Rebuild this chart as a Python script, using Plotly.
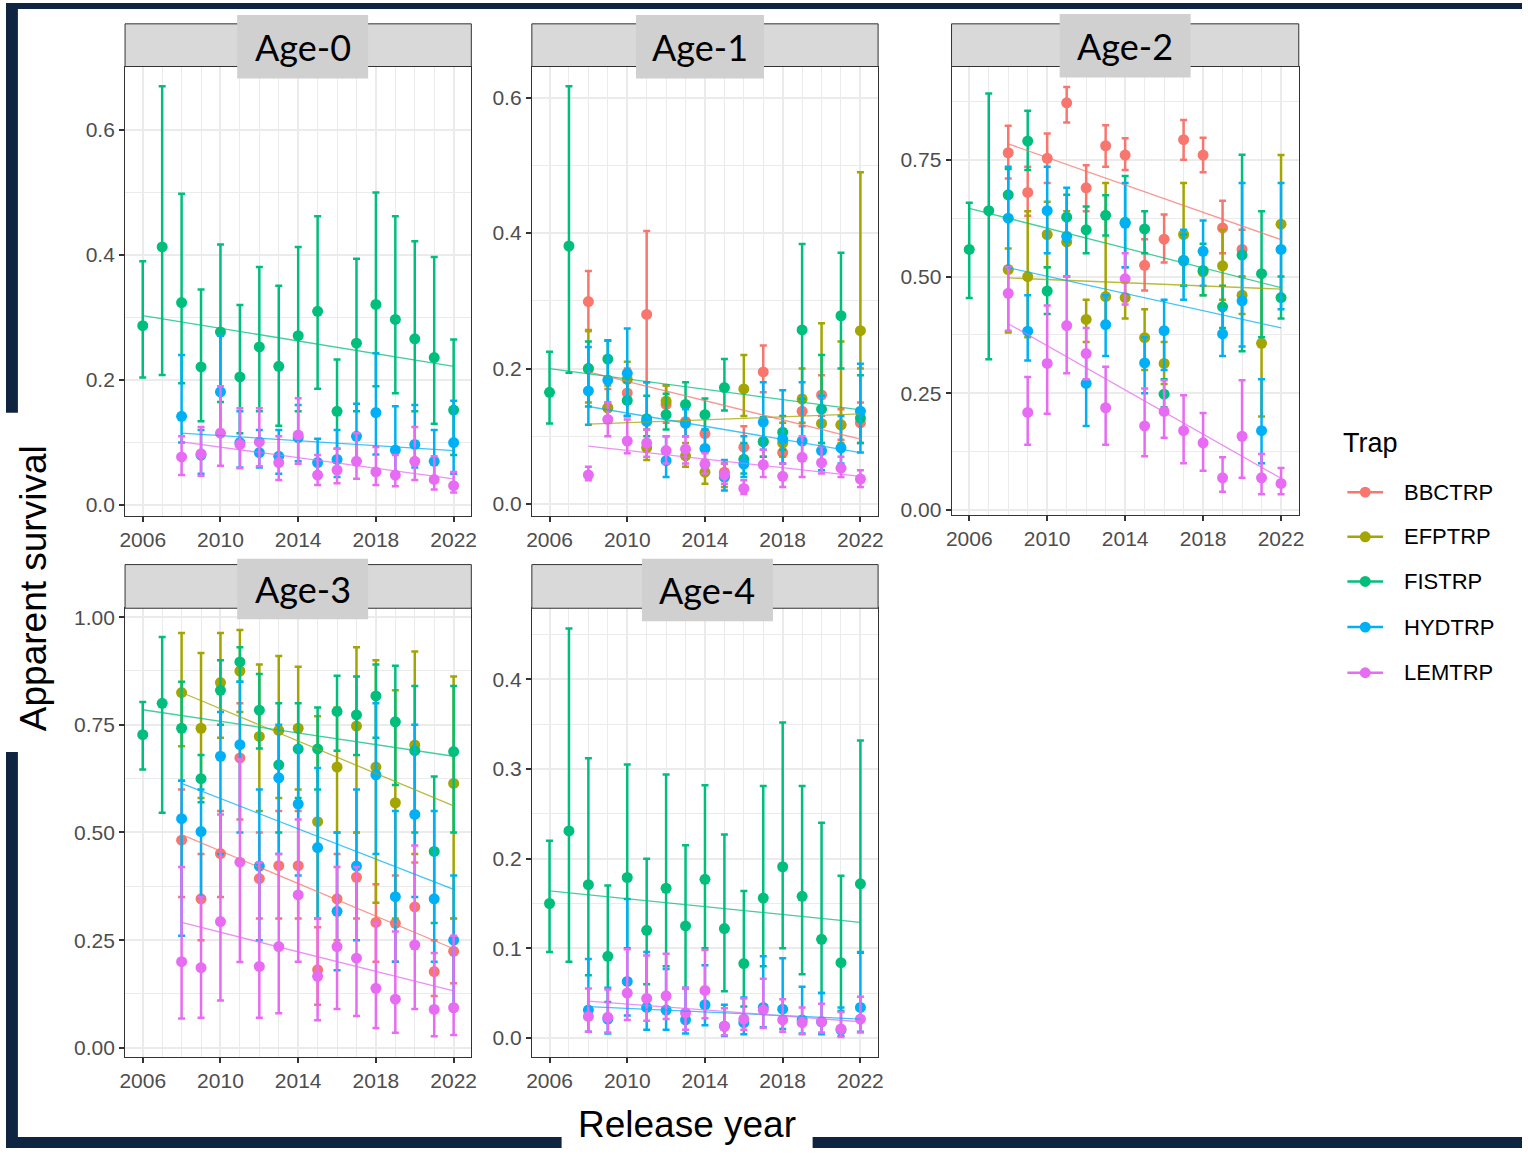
import plotly.graph_objects as go

N = None
YEARS = list(range(2006, 2023))
TRAPS = ["BBCTRP", "EFPTRP", "FISTRP", "HYDTRP", "LEMTRP"]
COLORS = ["#F8766D", "#A3A500", "#00BF7D", "#00B0F6", "#E76BF3"]
PANELS = ["Age-0", "Age-1", "Age-2", "Age-3", "Age-4"]
X_TICKS = [2006, 2010, 2014, 2018, 2022]

# ---------------- Age-0 ----------------
a0_fis_est = [.287, .413, .324, .221, .277, .205, .253, .222, .271, .310, .150, .259, .321, .297, .266, .236, .152]
a0_fis_lo = [.204, .208, .195, .134, .165, .115, .150, .127, .150, .186, .090, .150, .190, .179, .150, .130, .080]
a0_fis_hi = [.390, .670, .498, .345, .417, .320, .381, .351, .413, .462, .233, .394, .500, .462, .422, .397, .265]
a0_hyd_est = [N, N, .142, .080, .181, .100, .084, .078, .108, .068, .073, .110, .148, .088, .097, .070, .100]
a0_hyd_lo = [N, N, .100, .050, .120, .060, .060, .050, .070, .045, .045, .070, .081, .050, .060, .040, .050]
a0_hyd_hi = [N, N, .240, .120, .271, .150, .120, .120, .160, .106, .120, .162, .243, .158, .160, .120, .167]
a0_lem_est = [N, N, .077, .082, .115, .097, .101, .068, .112, .048, .056, .070, .053, .048, .070, .041, .031]
a0_lem_lo = [N, N, .048, .047, .063, .059, .062, .040, .066, .032, .035, .042, .032, .030, .040, .025, .020]
a0_lem_hi = [N, N, .110, .125, .190, .155, .155, .110, .171, .080, .090, .115, .093, .080, .125, .078, .053]
a0_trend = {"FISTRP": [2006, .303, .222], "HYDTRP": [2008, .115, .087], "LEMTRP": [2008, .101, .042]}

# ---------------- Age-1 ----------------
a1_bbc_est = [N, N, .299, .142, .164, .280, .147, .122, .104, .047, .084, .195, .076, .137, .161, .117, .120]
a1_bbc_lo = [N, N, .255, .120, .130, .180, .120, .100, .080, .035, .060, .165, .060, .115, .130, .095, .090]
a1_bbc_hi = [N, N, .344, .170, .200, .403, .175, .150, .130, .060, .115, .234, .100, .160, .190, .140, .150]
a1_efp_est = [N, N, .200, .142, .184, .083, .152, .071, .047, .040, .170, .092, .090, .155, .119, .117, .256]
a1_efp_lo = [N, N, .150, .120, .150, .065, .130, .055, .030, .025, .130, .070, .070, .120, .090, .090, .200]
a1_efp_hi = [N, N, .257, .175, .210, .110, .175, .090, .065, .060, .220, .120, .120, .200, .267, .240, .490]
a1_fis_est = [.165, .381, .200, .214, .153, .126, .132, .147, .132, .172, .066, .092, .106, .257, .140, .278, .127]
a1_fis_lo = [.119, .194, .144, .185, .130, .100, .110, .115, .110, .138, .045, .070, .080, .155, .090, .200, .090]
a1_fis_hi = [.225, .617, .240, .242, .180, .160, .163, .180, .156, .214, .090, .128, .130, .384, .220, .371, .190]
a1_hyd_est = [N, N, .167, .183, .193, .122, .064, .119, .082, .040, .059, .121, .096, .093, .079, .083, .137]
a1_hyd_lo = [N, N, .117, .150, .130, .090, .040, .100, .060, .020, .040, .080, .060, .065, .050, .060, .076]
a1_hyd_hi = [N, N, .232, .241, .259, .180, .100, .140, .110, .065, .100, .180, .168, .180, .160, .130, .207]
a1_lem_est = [N, N, .043, .125, .093, .090, .079, .081, .059, .043, .023, .058, .041, .069, .061, .053, .037]
a1_lem_lo = [N, N, .035, .100, .075, .070, .060, .060, .045, .030, .015, .040, .025, .040, .045, .040, .025]
a1_lem_hi = [N, N, .055, .150, .125, .110, .100, .100, .075, .060, .035, .080, .060, .100, .085, .070, .050]
a1_trend = {"BBCTRP": [2008, .195, .096], "EFPTRP": [2008, .118, .133], "FISTRP": [2006, .200, .139],
            "HYDTRP": [2008, .144, .076], "LEMTRP": [2008, .0855, .041]}

# ---------------- Age-2 ----------------
a2_bbc_est = [N, N, .765, .680, .753, .872, .690, .780, .760, .524, .580, .793, .760, .604, .558, N, N]
a2_bbc_lo = [N, N, .710, .630, .700, .830, .640, .735, .728, .470, .530, .750, .723, .550, .500, N, N]
a2_bbc_hi = [N, N, .823, .735, .806, .906, .738, .824, .796, .580, .633, .835, .797, .662, .600, N, N]
a2_efp_est = [N, N, .515, .500, .590, .574, .408, .457, .455, .369, .314, .590, .510, .523, .460, .357, .612]
a2_efp_lo = [N, N, .380, .370, .520, .500, .360, .400, .410, .300, .270, .480, .460, .450, .420, .200, .460]
a2_efp_hi = [N, N, .560, .640, .660, .640, .450, .700, .500, .430, .360, .700, .560, .600, .500, .500, .760]
a2_fis_est = [.558, .641, .675, .790, .469, .627, .600, .631, .616, .602, .248, .535, .513, .435, .546, .506, .455]
a2_fis_lo = [.454, .323, .620, .728, .420, .575, .550, .588, .520, .550, .220, .480, .460, .390, .340, .370, .410]
a2_fis_hi = [.658, .892, .730, .855, .520, .675, .650, .674, .715, .640, .280, .590, .570, .480, .761, .640, .500]
a2_hyd_est = [N, N, .625, .383, .641, .586, .271, .397, .614, .315, .384, .533, .554, .377, .448, .170, .558]
a2_hyd_lo = [N, N, .520, .320, .550, .500, .180, .330, .520, .250, .300, .450, .480, .330, .350, .100, .430]
a2_hyd_hi = [N, N, .735, .460, .735, .690, .330, .460, .700, .370, .450, .600, .620, .430, .700, .280, .700]
a2_lem_est = [N, N, .464, .209, .314, .395, .335, .219, .495, .180, .211, .170, .144, .069, .158, .069, .057]
a2_lem_lo = [N, N, .384, .140, .206, .293, .280, .140, .440, .115, .155, .100, .084, .039, .069, .034, .034]
a2_lem_hi = [N, N, .520, .285, .438, .500, .390, .307, .550, .260, .278, .246, .208, .113, .278, .120, .090]
a2_trend = {"BBCTRP": [2008, .784, .579], "EFPTRP": [2008, .497, .473], "FISTRP": [2006, .646, .476],
            "HYDTRP": [2008, .519, .390], "LEMTRP": [2008, .399, .068]}

# ---------------- Age-3 ----------------
a3_bbc_est = [N, N, .482, .346, .451, .673, .393, .423, .423, .181, .346, .396, .291, .289, .327, .177, .224]
a3_bbc_lo = [N, N, .350, .250, .350, .530, .300, .300, .300, .100, .250, .300, .200, .200, .230, .120, .150]
a3_bbc_hi = [N, N, .600, .450, .550, .800, .500, .550, .550, .280, .450, .500, .380, .400, .430, .250, .300]
a3_efp_est = [N, N, .825, .742, .848, .875, .723, .737, .742, .525, .652, .747, .652, .569, .703, N, .614]
a3_efp_lo = [N, N, .700, .580, .720, .780, .550, .580, .600, .300, .500, .500, .337, .300, .450, N, .300]
a3_efp_hi = [N, N, .963, .917, .963, .970, .890, .910, .885, .770, .790, .930, .900, .830, .920, N, .862]
a3_fis_est = [.727, .800, .742, .625, .830, .896, .784, .657, .694, .694, .781, .773, .817, .757, .690, .456, .688]
a3_fis_lo = [.646, .546, .620, .570, .750, .850, .695, .500, .580, .600, .690, .680, .720, .610, .500, .290, .500]
a3_fis_hi = [.803, .954, .850, .680, .900, .930, .868, .800, .800, .790, .864, .862, .890, .887, .840, .630, .840]
a3_hyd_est = [N, N, .532, .502, .677, .704, .422, .627, .566, .465, .317, .422, .634, .351, .542, .346, .250]
a3_hyd_lo = [N, N, .260, .350, .450, .500, .250, .450, .400, .300, .180, .250, .450, .200, .350, .200, .100]
a3_hyd_hi = [N, N, .620, .600, .780, .850, .600, .750, .700, .650, .500, .600, .800, .550, .750, .550, .400]
a3_lem_est = [N, N, .200, .186, .293, .431, .189, .235, .355, .166, .235, .208, .138, .113, .239, .089, .093]
a3_lem_lo = [N, N, .068, .070, .110, .199, .070, .080, .200, .064, .090, .074, .046, .035, .090, .027, .030]
a3_lem_hi = [N, N, .420, .350, .542, .670, .430, .450, .530, .300, .420, .420, .290, .270, .470, .220, .260]
a3_trend = {"BBCTRP": [2008, .495, .230], "EFPTRP": [2008, .825, .562], "FISTRP": [2006, .785, .677],
            "HYDTRP": [2008, .614, .368], "LEMTRP": [2008, .291, .132]}

# ---------------- Age-4 ----------------
a4_fis_est = [.150, .231, .171, .091, .179, .120, .167, .125, .177, .122, .083, .156, .191, .158, .110, .084, .172]
a4_fis_lo = [.096, .085, .070, .040, .100, .060, .080, .055, .100, .052, .035, .080, .100, .071, .050, .030, .095]
a4_fis_hi = [.220, .457, .312, .170, .305, .200, .294, .215, .282, .227, .164, .281, .352, .281, .240, .181, .332]
a4_hyd_est = [N, N, .031, .021, .063, .034, .031, .020, .037, .013, .017, .034, .032, .020, .018, .009, .034]
a4_hyd_lo = [N, N, .007, .005, .025, .009, .009, .005, .014, .002, .004, .012, .010, .005, .004, .002, .007]
a4_hyd_hi = [N, N, .088, .056, .155, .096, .077, .056, .081, .037, .045, .091, .089, .057, .050, .034, .096]
a4_lem_est = [N, N, .024, .023, .050, .044, .047, .028, .053, .013, .021, .031, .020, .017, .018, .010, .021]
a4_lem_lo = [N, N, .007, .006, .020, .019, .021, .009, .022, .003, .009, .011, .007, .004, .006, .001, .006]
a4_lem_hi = [N, N, .055, .054, .099, .092, .094, .056, .098, .033, .044, .066, .043, .034, .038, .029, .046]
a4_trend = {"FISTRP": [2006, .164, .129], "HYDTRP": [2008, .035, .021], "LEMTRP": [2008, .041, .018]}

PANEL_DATA = [
    {"FISTRP": (a0_fis_est, a0_fis_lo, a0_fis_hi), "HYDTRP": (a0_hyd_est, a0_hyd_lo, a0_hyd_hi),
     "LEMTRP": (a0_lem_est, a0_lem_lo, a0_lem_hi)},
    {"BBCTRP": (a1_bbc_est, a1_bbc_lo, a1_bbc_hi), "EFPTRP": (a1_efp_est, a1_efp_lo, a1_efp_hi),
     "FISTRP": (a1_fis_est, a1_fis_lo, a1_fis_hi), "HYDTRP": (a1_hyd_est, a1_hyd_lo, a1_hyd_hi),
     "LEMTRP": (a1_lem_est, a1_lem_lo, a1_lem_hi)},
    {"BBCTRP": (a2_bbc_est, a2_bbc_lo, a2_bbc_hi), "EFPTRP": (a2_efp_est, a2_efp_lo, a2_efp_hi),
     "FISTRP": (a2_fis_est, a2_fis_lo, a2_fis_hi), "HYDTRP": (a2_hyd_est, a2_hyd_lo, a2_hyd_hi),
     "LEMTRP": (a2_lem_est, a2_lem_lo, a2_lem_hi)},
    {"BBCTRP": (a3_bbc_est, a3_bbc_lo, a3_bbc_hi), "EFPTRP": (a3_efp_est, a3_efp_lo, a3_efp_hi),
     "FISTRP": (a3_fis_est, a3_fis_lo, a3_fis_hi), "HYDTRP": (a3_hyd_est, a3_hyd_lo, a3_hyd_hi),
     "LEMTRP": (a3_lem_est, a3_lem_lo, a3_lem_hi)},
    {"FISTRP": (a4_fis_est, a4_fis_lo, a4_fis_hi), "HYDTRP": (a4_hyd_est, a4_hyd_lo, a4_hyd_hi),
     "LEMTRP": (a4_lem_est, a4_lem_lo, a4_lem_hi)},
]
PANEL_TRENDS = [a0_trend, a1_trend, a2_trend, a3_trend, a4_trend]

# ---------------- layout geometry (pixels) ----------------
W, H = 1528, 1154
def fx(p): return p / W
def fy(p): return 1 - p / H

# (left, right, top, bottom, y-range, y-dtick, y-format, strip-top, label box)
GEOM = [
    (120, 469, 64, 517, [-0.0175, 0.7016], 0.2, ".1f", 21, (233, 365, 12, 76)),
    (530, 879, 64, 517, [-0.0176, 0.646], 0.2, ".1f", 21, (635, 764, 12, 76)),
    (953, 1303, 64, 516, [-0.0106, 0.9497], 0.25, ".2f", 21, (1062, 1194, 11, 75)),
    (120, 469, 610, 1062, [-0.0207, 1.0207], 0.25, ".2f", 566, (233, 365, 560, 621)),
    (530, 879, 610, 1062, [-0.021, 0.4795], 0.1, ".1f", 566, (641, 773, 560, 623)),
]

TICKFONT = dict(family="Liberation Sans, Arial, sans-serif", size=21, color="#4d4d4d")
GRID = "#ebebeb"
fig = go.Figure()
layout = {}
shapes = []
annotations = []

for i, (l, r, t, b, yr, ydt, yfmt, st, box) in enumerate(GEOM):
    suf = "" if i == 0 else str(i + 1)
    xa, ya = "x" + suf, "y" + suf
    data = PANEL_DATA[i]
    for k, trap in enumerate(TRAPS):
        if trap not in data:
            continue
        est, lo, hi = data[trap]
        xs, ys, up, dn = [], [], [], []
        for yv, e, lv, hv in zip(YEARS, est, lo, hi):
            if e is None:
                continue
            xs.append(yv); ys.append(e); up.append(hv - e); dn.append(e - lv)
        fig.add_trace(go.Scatter(
            x=xs, y=ys, mode="markers", xaxis=xa, yaxis=ya, showlegend=False,
            marker=dict(color=COLORS[k], size=11),
            error_y=dict(type="data", symmetric=False, array=up, arrayminus=dn,
                         color=COLORS[k], thickness=2.5, width=3.5)))
    for k, trap in enumerate(TRAPS):
        tr = PANEL_TRENDS[i].get(trap)
        if tr is None:
            continue
        fig.add_trace(go.Scatter(
            x=[tr[0], YEARS[-1]], y=[tr[1], tr[2]], mode="lines", xaxis=xa, yaxis=ya,
            showlegend=False, opacity=0.75, line=dict(color=COLORS[k], width=1.3)))

    layout["xaxis" + suf] = dict(
        domain=[fx(l), fx(r)], anchor=ya, range=[2005.09, 2022.91],
        tickmode="array", tickvals=X_TICKS, ticks="outside", ticklen=5, tickwidth=1.5,
        tickcolor="#333333", tickfont=TICKFONT, showgrid=True, gridcolor=GRID, gridwidth=1.6,
        minor=dict(tickmode="linear", tick0=2006, dtick=1, showgrid=True, gridcolor=GRID, gridwidth=1.3),
        showline=True, linecolor="#333333", linewidth=1, mirror=True, zeroline=False)
    layout["yaxis" + suf] = dict(
        domain=[fy(b), fy(t)], anchor=xa, range=yr, tickmode="linear", tick0=0, dtick=ydt,
        tickformat=yfmt, ticks="outside", ticklen=5, tickwidth=1.5, tickcolor="#333333",
        tickfont=TICKFONT, showgrid=True, gridcolor=GRID, gridwidth=1.6,
        minor=dict(tickmode="linear", tick0=0, dtick=ydt / 2, showgrid=True, gridcolor=GRID, gridwidth=1.3),
        showline=True, linecolor="#333333", linewidth=1, mirror=True, zeroline=False)

    # facet strip
    shapes.append(dict(type="rect", xref="paper", yref="paper", x0=fx(l), x1=fx(r), y0=fy(t), y1=fy(st),
                       fillcolor="#d9d9d9", line=dict(color="#333333", width=1), layer="above"))
    bx0, bx1, by0, by1 = box
    shapes.append(dict(type="rect", xref="paper", yref="paper", x0=fx(bx0), x1=fx(bx1), y0=fy(by1), y1=fy(by0),
                       fillcolor="#d0d0d0", line=dict(width=0), layer="above"))
    annotations.append(dict(text=PANELS[i], xref="paper", yref="paper", x=fx((bx0 + bx1) / 2),
                            y=fy((by0 + by1) / 2), xanchor="center", yanchor="middle", showarrow=False,
                            font=dict(family="Lato, Carlito, sans-serif", size=36, color="#000000")))

# dark frame with white gaps behind the axis titles
DARK = "#0f2440"
for (x0, x1, y0, y1) in [(0, W, 0, 6), (0, 12, 0, 413), (0, 12, 755, H), (0, 560, 1143, H), (813, W, 1143, H)]:
    shapes.append(dict(type="rect", xref="paper", yref="paper", x0=fx(x0), x1=fx(x1), y0=fy(y1), y1=fy(y0),
                       fillcolor=DARK, line=dict(width=0), layer="above"))

# axis titles
annotations.append(dict(text="Apparent survival", xref="paper", yref="paper", x=fx(28), y=fy(590),
                        textangle=-90, xanchor="center", yanchor="middle", showarrow=False,
                        font=dict(family="Liberation Sans, Arial, sans-serif", size=37, color="#000000")))
annotations.append(dict(text="Release year", xref="paper", yref="paper", x=fx(686), y=fy(1130),
                        xanchor="center", yanchor="middle", showarrow=False,
                        font=dict(family="Liberation Sans, Arial, sans-serif", size=37, color="#000000")))

# legend (drawn by hand)
annotations.append(dict(text="Trap", xref="paper", yref="paper", x=fx(1346), y=fy(443),
                        xanchor="left", yanchor="middle", showarrow=False,
                        font=dict(family="Liberation Sans, Arial, sans-serif", size=27, color="#000000")))
LEG_Y = [493, 538, 583, 629, 675]
for k, trap in enumerate(TRAPS):
    yy = LEG_Y[k]
    shapes.append(dict(type="line", xref="paper", yref="paper", x0=fx(1352), x1=fx(1388), y0=fy(yy), y1=fy(yy),
                       line=dict(color=COLORS[k], width=2.5)))
    shapes.append(dict(type="circle", xref="paper", yref="paper", x0=fx(1364.5), x1=fx(1375.5),
                       y0=fy(yy + 5.5), y1=fy(yy - 5.5), fillcolor=COLORS[k], line=dict(width=0)))
    annotations.append(dict(text=trap, xref="paper", yref="paper", x=fx(1407), y=fy(yy),
                            xanchor="left", yanchor="middle", showarrow=False,
                            font=dict(family="Liberation Sans, Arial, sans-serif", size=22, color="#000000")))

fig.update_layout(width=W, height=H, margin=dict(l=0, r=0, t=0, b=0), paper_bgcolor="white",
                  plot_bgcolor="white", showlegend=False, shapes=shapes, annotations=annotations, **layout)
fig.write_html("out.html")
